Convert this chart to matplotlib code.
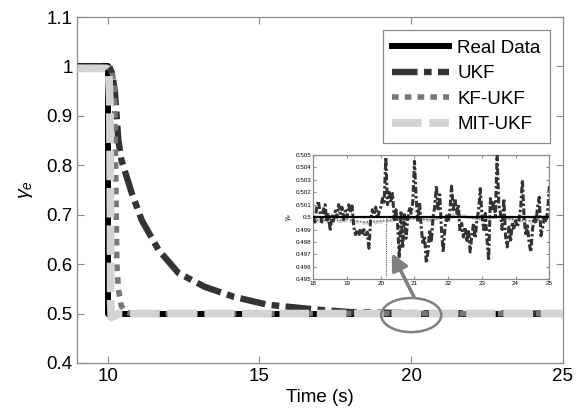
import matplotlib
matplotlib.use("Agg")
import matplotlib.pyplot as plt
from matplotlib.patches import Ellipse

plt.rcParams["font.family"] = ["Liberation Sans", "DejaVu Sans"]
plt.rcParams["mathtext.fontset"] = "custom"
plt.rcParams["mathtext.it"] = "Liberation Sans:italic"
plt.rcParams["mathtext.rm"] = "Liberation Sans"

# ── main panel data ──────────────────────────────────────────────────────────
real_t = [9.0, 10.0, 10.0, 25.0]
real_v = [1.0, 1.0, 0.5, 0.5]

ukf_t = [9.0, 10.05, 10.15, 10.24, 10.35, 10.45, 10.79, 11.12, 11.67, 12.33,
         13.2, 14.15, 15.26, 16.9, 18.0, 20.0, 25.0]
ukf_v = [1.0, 1.0, 0.985, 0.946, 0.851, 0.811, 0.744, 0.689, 0.629, 0.582,
         0.554, 0.534, 0.518, 0.508, 0.503, 0.501, 0.5]

kf_t = [9.0, 10.05, 10.15, 10.22, 10.26, 10.28, 10.3, 10.35, 10.45, 10.6, 10.8, 25.0]
kf_v = [0.998, 0.998, 0.99, 0.95, 0.8, 0.7, 0.6, 0.55, 0.515, 0.503, 0.5, 0.5]

mit_t = [9.0, 9.95, 10.03, 10.07, 10.09, 10.1, 10.12, 10.2, 10.35, 25.0]
mit_v = [0.996, 0.996, 0.99, 0.93, 0.7, 0.52, 0.492, 0.495, 0.5, 0.5]

x_ticks = [10, 15, 20, 25]
y_ticks = [0.4, 0.5, 0.6, 0.7, 0.8, 0.9, 1.0, 1.1]
y_labels = ["0.4", "0.5", "0.6", "0.7", "0.8", "0.9", "1", "1.1"]

# ── inset data (zoom on 18–25 s) ─────────────────────────────────────────────
ins_ukf_t = [18.0 + 0.05 * i for i in range(141)]
ins_ukf_v = [
    0.5000, 0.4996, 0.5008, 0.5013, 0.5004, 0.4996, 0.5006, 0.5010, 0.4996, 0.5002,
    0.4989, 0.5001, 0.4997, 0.5005, 0.5000, 0.5010, 0.5003, 0.5008, 0.4998, 0.5005,
    0.5000, 0.5010, 0.5004, 0.5009, 0.4992, 0.4986, 0.4990, 0.4985, 0.4991, 0.4986,
    0.4990, 0.4984, 0.4988, 0.4975, 0.4998, 0.5006, 0.5002, 0.5008, 0.4999, 0.5004,
    0.5008, 0.5015, 0.5012, 0.5048, 0.5010, 0.5020, 0.5012, 0.5019, 0.4998, 0.5006,
    0.4993, 0.4967, 0.5005, 0.4975, 0.5003, 0.4983, 0.4998, 0.5008, 0.5003, 0.5012,
    0.5045, 0.5015, 0.4996, 0.5012, 0.4992, 0.4978, 0.4985, 0.4963, 0.4972, 0.4990,
    0.4980, 0.5000, 0.5008, 0.5025, 0.5005, 0.5018, 0.4990, 0.4972, 0.4990, 0.5001,
    0.4996, 0.5005, 0.5025, 0.5006, 0.5015, 0.5003, 0.5010, 0.4988, 0.4995, 0.4984,
    0.4992, 0.4980, 0.4990, 0.4972, 0.4985, 0.4995, 0.4983, 0.4997, 0.5005, 0.5023,
    0.5002, 0.4990, 0.5003, 0.4982, 0.4965, 0.5015, 0.5005, 0.5013, 0.5001, 0.5050,
    0.5010, 0.5003, 0.4990, 0.5015, 0.4985, 0.4976, 0.4992, 0.4980, 0.4996, 0.4990,
    0.4997, 0.4992, 0.4998, 0.5008, 0.5030, 0.5000, 0.4985, 0.4993, 0.4979, 0.4972,
    0.4990, 0.5000, 0.4995, 0.5008, 0.5016, 0.4985, 0.4992, 0.5000, 0.4996, 0.5005,
    0.5025,
]

ins_filt_t = [18.0, 18.5, 19.0, 19.5, 20.0, 20.5, 21.0, 21.5, 22.0, 22.5,
              23.0, 23.5, 24.0, 24.5, 25.0]
ins_kf_v = [0.4998, 0.4997, 0.4998, 0.4996, 0.4997, 0.4998, 0.4999, 0.4998, 0.5001,
            0.5000, 0.4998, 0.5000, 0.4998, 0.4997, 0.5001]
ins_mit_v = [0.4997, 0.4996, 0.4997, 0.4995, 0.4996, 0.4998, 0.4999, 0.4997, 0.5002,
             0.5001, 0.4998, 0.5001, 0.4997, 0.4996, 0.5002]

ins_x_ticks = [18, 19, 20, 21, 22, 23, 24, 25]
ins_y_ticks = [0.495, 0.496, 0.497, 0.498, 0.499, 0.5, 0.501, 0.502, 0.503, 0.504, 0.505]
ins_y_labels = ["0.495", "0.496", "0.497", "0.498", "0.499", "0.5",
                "0.501", "0.502", "0.503", "0.504", "0.505"]

C_REAL, C_UKF, C_KF, C_MIT = "#000000", "#333333", "#777777", "#d3d3d3"
SPINE = "#8a8a8a"


def style_box(ax, size, tick_len):
    for s in ax.spines.values():
        s.set_color(SPINE)
        s.set_linewidth(0.9)
    ax.tick_params(direction="in", top=True, right=True, labelsize=size,
                   length=tick_len, color=SPINE, width=0.8)


fig = plt.figure(figsize=(5.84, 4.17), dpi=100)
fig.patch.set_facecolor("white")
ax = fig.add_axes([0.1325, 0.1295, 0.8315, 0.8297])

ax.plot(real_t, real_v, color=C_REAL, lw=4.3, label="Real Data",
        solid_joinstyle="round", zorder=2)
ax.plot(ukf_t, ukf_v, color=C_UKF, lw=4.6, label="UKF",
        dashes=[4.0, 1.0, 1.2, 1.0], zorder=3)
ax.plot(kf_t, kf_v, color=C_KF, lw=4.0, label="KF-UKF",
        dashes=[1.2, 1.1], zorder=4)
ax.plot(mit_t, mit_v, color=C_MIT, lw=5.6, label="MIT-UKF",
        dashes=[3.8, 1.0], zorder=5)

ax.set_xlim(9, 25)
ax.set_ylim(0.4, 1.1)
ax.set_xticks(x_ticks)
ax.set_yticks(y_ticks)
ax.set_yticklabels(y_labels)
style_box(ax, 13.5, 5)
ax.set_xlabel("Time (s)", fontsize=13.5, labelpad=3)
ax.set_ylabel(r"$\gamma_e$", fontsize=14, labelpad=8)

leg = ax.legend(loc="upper right", fontsize=13.5, handlelength=3.0,
                borderaxespad=0.7, borderpad=0.5, labelspacing=0.45,
                handletextpad=0.45, fancybox=False, framealpha=1)
leg.get_frame().set_edgecolor(SPINE)
leg.get_frame().set_linewidth(0.9)

# zoom marker around the steady-state region
ax.add_patch(Ellipse((20.0, 0.497), 1.98, 0.069, fill=False,
                     edgecolor="#808080", lw=1.8, zorder=6))

# ── inset ────────────────────────────────────────────────────────────────────
axins = fig.add_axes([0.5365, 0.3302, 0.4042, 0.2981])
axins.plot(ins_filt_t, ins_mit_v, color=C_MIT, lw=2.2, dashes=[3, 1], zorder=2)
axins.plot(ins_filt_t, ins_kf_v, color=C_KF, lw=1.2, dashes=[1, 1], zorder=2)
axins.plot(ins_ukf_t, ins_ukf_v, color=C_UKF, lw=2.2,
           dashes=[2.2, 0.8, 0.8, 0.8], zorder=3)
axins.plot([18, 25], [0.5, 0.5], color=C_REAL, lw=1.6, zorder=4)
axins.plot([20.15, 20.15], [0.5, 0.4953], color="#555555", lw=0.8,
           ls=(0, (1, 1)), zorder=5)
axins.set_xlim(18, 25)
axins.set_ylim(0.495, 0.505)
axins.set_xticks(ins_x_ticks)
axins.set_yticks(ins_y_ticks)
axins.set_yticklabels(ins_y_labels)
style_box(axins, 4.5, 2.5)
axins.tick_params(pad=1.5)
axins.set_ylabel(r"$\gamma_e$", fontsize=5, labelpad=1)

axins.annotate("", xy=(20.33, 0.4971), xycoords="data",
               xytext=(20.09, 0.534), textcoords=ax.transData,
               arrowprops=dict(arrowstyle="-|>,head_length=1.0,head_width=0.5",
                               color="#808080", lw=2.6, shrinkA=0, shrinkB=0),
               annotation_clip=False, zorder=10)

fig.savefig("out.png", dpi=100)
